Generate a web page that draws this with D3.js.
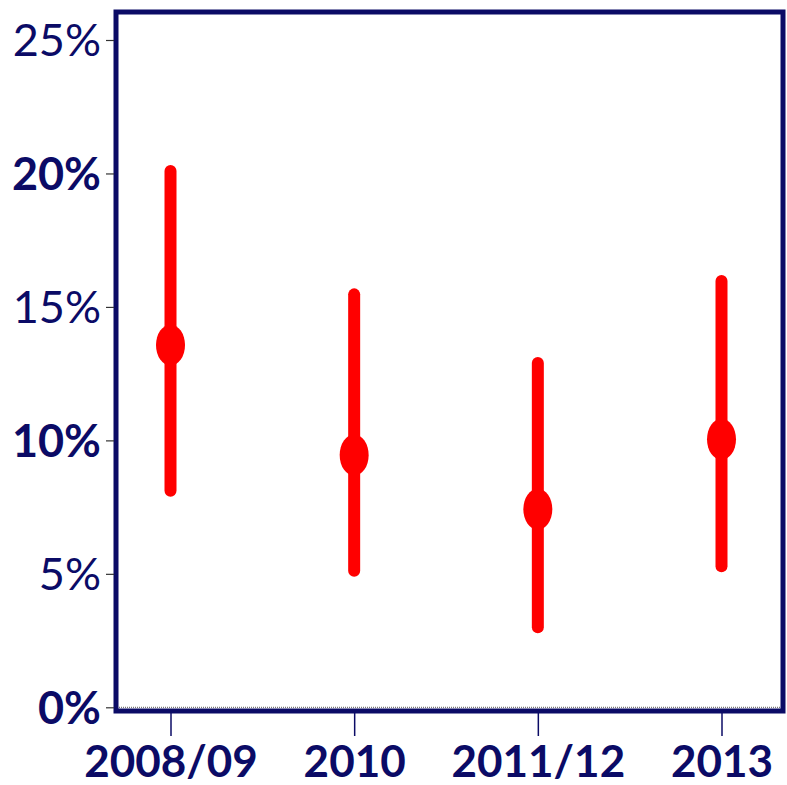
<!DOCTYPE html>
<html>
<head>
<meta charset="utf-8">
<script src="https://cdn.jsdelivr.net/npm/d3@7"></script>
<style>
  html, body { margin: 0; padding: 0; background: #ffffff; }
  svg { display: block; }
</style>
</head>
<body>
<svg id="chart" width="787" height="785"></svg>
<script>
// Survey periods and estimated prevalence (%) with lower / upper bounds
const periods = ["2008/09", "2010", "2011/12", "2013"];
const estimate = [13.57, 9.45, 7.42, 10.04];
const lower = [8.11, 5.12, 3.0, 5.28];
const upper = [20.09, 15.47, 12.9, 15.97];
const yTicks = [0, 5, 10, 15, 20, 25];
const boldTicks = [0, 10, 20];

const navy = "#0b0b66";
const red = "#ff0000";
const font = "Lato, 'Open Sans', sans-serif";

const svg = d3.select("#chart");

const frame = { left: 116, top: 12, right: 783, bottom: 711 };

const y = d3.scaleLinear().domain([0, 25]).range([707.3, 40]);
const x = d3.scalePoint().domain(periods).range([170.5, 721.5]);

// Dotted baseline at 0%
svg.append("line")
  .attr("x1", frame.left + 3).attr("x2", frame.right - 3)
  .attr("y1", y(0)).attr("y2", y(0))
  .attr("stroke", "#555").attr("stroke-width", 1)
  .attr("stroke-dasharray", "1,1");

// Plot frame
svg.append("rect")
  .attr("x", frame.left).attr("y", frame.top)
  .attr("width", frame.right - frame.left)
  .attr("height", frame.bottom - frame.top)
  .attr("fill", "none")
  .attr("stroke", navy).attr("stroke-width", 5);

// Y axis
const yAxis = svg.append("g")
  .attr("transform", `translate(${frame.left - 2},0)`)
  .call(d3.axisLeft(y).tickValues(yTicks).tickSize(8).tickPadding(5)
    .tickFormat(d => d + "%"));
yAxis.select(".domain").remove();
yAxis.selectAll(".tick line").attr("stroke", "#333").attr("stroke-width", 1.2);
yAxis.selectAll(".tick text")
  .attr("fill", navy)
  .attr("font-family", font)
  .attr("font-size", 45)
  .attr("font-weight", d => boldTicks.includes(d) ? 700 : 400)
  .attr("dy", "0.35em");

// X axis
const xAxis = svg.append("g")
  .attr("transform", `translate(0,${frame.bottom + 2})`)
  .call(d3.axisBottom(x).tickSize(23).tickPadding(10));
xAxis.select(".domain").remove();
xAxis.selectAll(".tick line").attr("stroke", navy).attr("stroke-width", 1.5);
xAxis.selectAll(".tick text")
  .attr("fill", navy)
  .attr("font-family", font)
  .attr("font-size", 44)
  .attr("font-weight", 700)
  .attr("dy", "0.71em");

// Interval bars and point estimates
const data = periods.map((p, i) => ({ p, est: estimate[i], lo: lower[i], hi: upper[i] }));

const g = svg.append("g");
g.selectAll("line.ci").data(data).join("line")
  .attr("class", "ci")
  .attr("x1", d => x(d.p)).attr("x2", d => x(d.p))
  .attr("y1", d => y(d.lo)).attr("y2", d => y(d.hi))
  .attr("stroke", red).attr("stroke-width", 12)
  .attr("stroke-linecap", "round");

g.selectAll("ellipse.est").data(data).join("ellipse")
  .attr("class", "est")
  .attr("cx", d => x(d.p)).attr("cy", d => y(d.est))
  .attr("rx", 14.5).attr("ry", 20.5)
  .attr("fill", red);
</script>
</body>
</html>
